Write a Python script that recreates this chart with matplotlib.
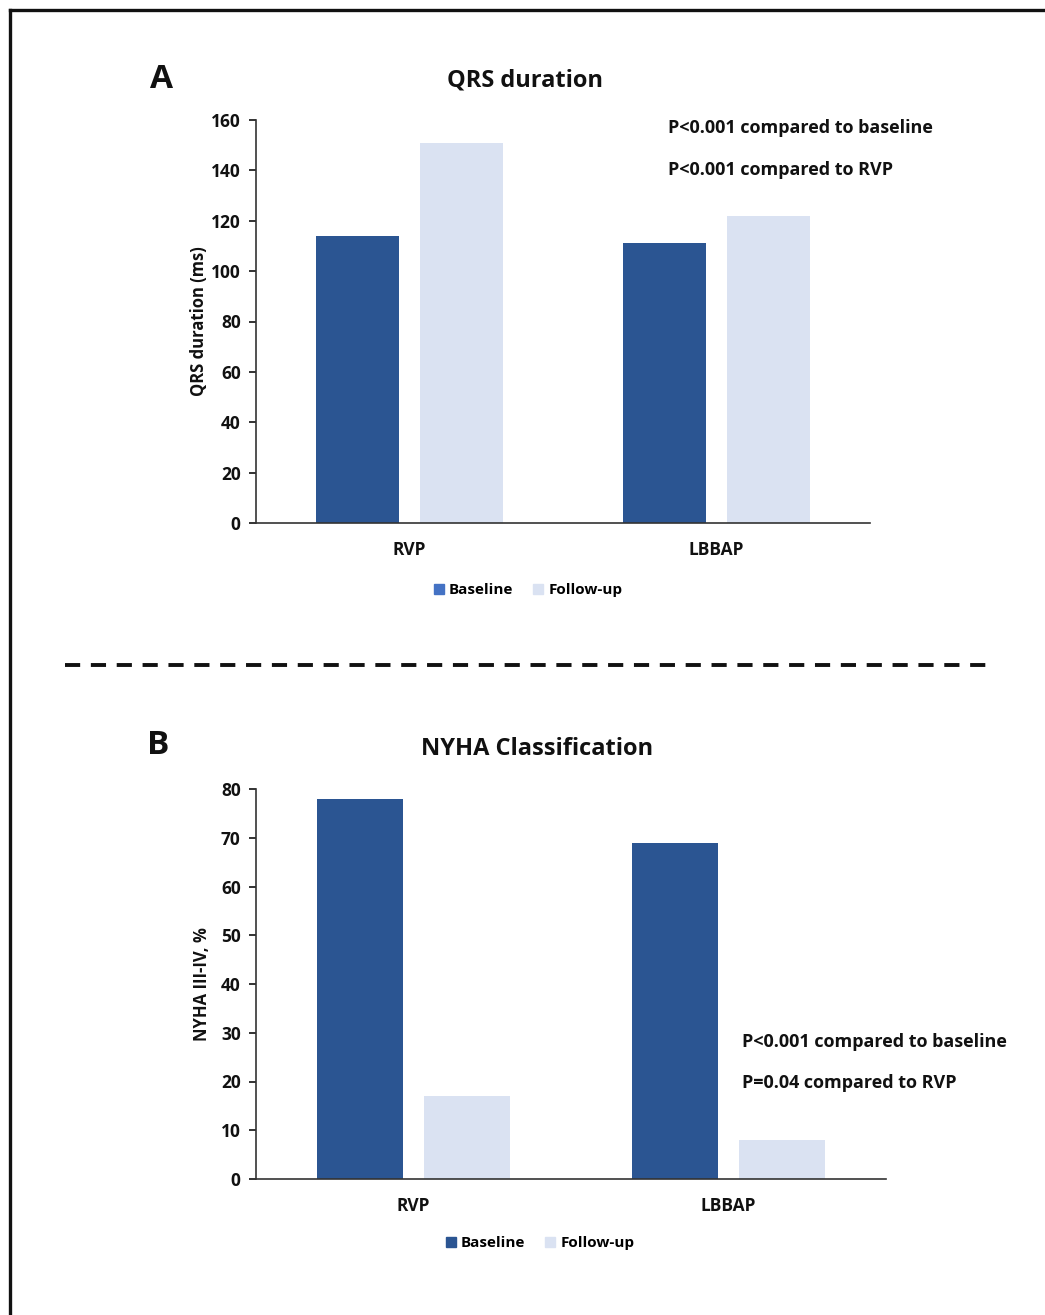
import matplotlib
matplotlib.use("Agg")
import matplotlib.pyplot as plt
import numpy as np
from matplotlib.lines import Line2D
from matplotlib.patches import Patch

plt.rcParams['font.family'] = ['Open Sans', 'DejaVu Sans']
plt.rcParams['font.weight'] = 'bold'

# data
groups = ["RVP", "LBBAP"]
series = ["Baseline", "Follow-up"]
qrs_baseline = [114, 111]
qrs_followup = [151, 122]
nyha_baseline = [78, 69]
nyha_followup = [17, 8]

DARK = "#2B5592"
LIGHT = "#DAE2F2"
LEG_A = "#4472C4"
TEXT = "#111111"

W, H = 1045, 1315
fig = plt.figure(figsize=(W / 100, H / 100), dpi=100, facecolor="white")


def fx(px):
    return px / W


def fy(py):
    return 1 - py / H


def bar_panel(ax, base, follow, ymax, step, ylabel, width, labelpad):
    x = np.arange(len(groups))
    ax.bar(x - 0.17, base, width=width, color=DARK, zorder=2)
    ax.bar(x + 0.17, follow, width=width, color=LIGHT, zorder=2)
    ax.set_xlim(-0.5, len(groups) - 0.5)
    ax.set_ylim(0, ymax)
    ax.set_yticks(np.arange(0, ymax + 1, step))
    ax.set_xticks(x)
    ax.set_xticklabels(groups)
    ax.tick_params(axis="x", length=0, pad=13, labelsize=12.5, colors=TEXT)
    ax.tick_params(axis="y", length=5, width=1.2, pad=6, labelsize=12.5,
                   colors=TEXT, direction="out")
    for s in ("top", "right"):
        ax.spines[s].set_visible(False)
    for s in ("left", "bottom"):
        ax.spines[s].set_color("#333333")
        ax.spines[s].set_linewidth(1.2)
    ax.set_ylabel(ylabel, fontsize=12, fontweight="bold", color=TEXT, labelpad=labelpad)
    for lab in ax.get_xticklabels() + ax.get_yticklabels():
        lab.set_fontweight("bold")


# ── Panel A ────────────────────────────────────────────────────────────────
axA = fig.add_axes([fx(256), fy(523), fx(870) - fx(256), fy(120) - fy(523)])
bar_panel(axA, qrs_baseline, qrs_followup, 160, 20, "QRS duration (ms)", 0.27, 2)
fig.text(fx(525), fy(80), "QRS duration", ha="center", va="center",
         fontsize=17, fontweight="bold", color=TEXT)
fig.text(fx(162), fy(80), "A", ha="center", va="center",
         fontsize=24, fontweight="bold", color=TEXT)
fig.text(fx(668), fy(128), "P<0.001 compared to baseline", ha="left", va="center",
         fontsize=13, fontweight="bold", color=TEXT)
fig.text(fx(668), fy(170), "P<0.001 compared to RVP", ha="left", va="center",
         fontsize=13, fontweight="bold", color=TEXT)
hA = [Patch(color=LEG_A), Patch(color=LIGHT)]
fig.legend(hA, series, loc="center", bbox_to_anchor=(fx(528), fy(590)), ncol=2,
           frameon=False, fontsize=11, handlelength=0.65, handleheight=0.65,
           handletextpad=0.35, columnspacing=1.3)

# ── divider ────────────────────────────────────────────────────────────────
fig.add_artist(Line2D([fx(65), fx(990)], [fy(665), fy(665)], color="#111111",
                      linewidth=2.8, linestyle=(0, (3.9, 2.75))))

# ── Panel B ────────────────────────────────────────────────────────────────
axB = fig.add_axes([fx(256), fy(1179), fx(886) - fx(256), fy(789) - fy(1179)])
bar_panel(axB, nyha_baseline, nyha_followup, 80, 10, "NYHA III-IV, %", 0.273, 7)
fig.text(fx(537), fy(749), "NYHA Classification", ha="center", va="center",
         fontsize=17, fontweight="bold", color=TEXT)
fig.text(fx(158), fy(745), "B", ha="center", va="center",
         fontsize=24, fontweight="bold", color=TEXT)
fig.text(fx(742), fy(1042), "P<0.001 compared to baseline", ha="left", va="center",
         fontsize=13, fontweight="bold", color=TEXT)
fig.text(fx(742), fy(1083), "P=0.04 compared to RVP", ha="left", va="center",
         fontsize=13, fontweight="bold", color=TEXT)
hB = [Patch(color=DARK), Patch(color=LIGHT)]
fig.legend(hB, series, loc="center", bbox_to_anchor=(fx(540), fy(1243)), ncol=2,
           frameon=False, fontsize=11, handlelength=0.65, handleheight=0.65,
           handletextpad=0.35, columnspacing=1.3)

# ── outer frame (left + top only visible) ─────────────────────────────────
fig.add_artist(Line2D([fx(9.5), fx(9.5)], [0, fy(10)], color="#111111", linewidth=2.4))
fig.add_artist(Line2D([fx(9.5), 1], [fy(10), fy(10)], color="#111111", linewidth=2.4))

fig.savefig("out.png", dpi=100, facecolor="white")
